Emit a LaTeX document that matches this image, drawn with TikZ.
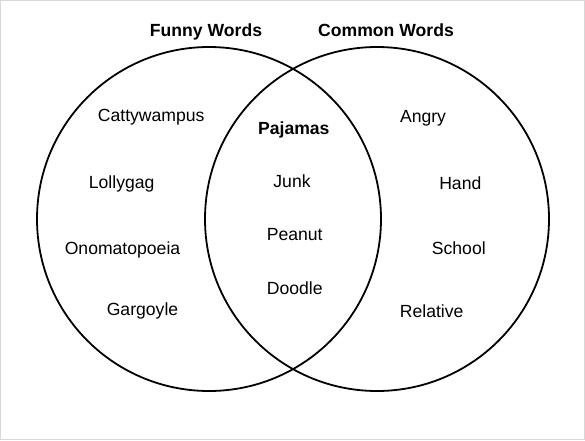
\documentclass[tikz,border=0pt]{standalone}
\usepackage{fontspec}
\setmainfont{Liberation Sans}
\begin{document}
\begin{tikzpicture}[x=1pt,y=1pt,
  word/.style={inner sep=0pt,anchor=base,font=\fontsize{17.6}{20}\selectfont},
  title/.style={word,font=\fontsize{17.6}{20}\selectfont\bfseries},
  ring/.style={draw=black,line width=1.8pt}]
\useasboundingbox (0,0) rectangle (585,440);
\draw[draw={rgb,255:red,215;green,215;blue,215},line width=1pt] (0.5,0.5) rectangle (584.5,439.5);
\node[ring,circle,minimum size=344pt,inner sep=0pt] (funny) at (209,221) {};
\node[ring,circle,minimum size=344pt,inner sep=0pt] (common) at (377,221) {};
\node[title] (tf) at (206,403.3) {Funny Words};
\node[title] (tc) at (386,403.3) {Common Words};
\node[word] (w1) at (151.2,318.3) {Cattywampus};
\node[word] (w2) at (121.7,251.7) {Lollygag};
\node[word] (w3) at (122.5,185.7) {Onomatopoeia};
\node[word] (w4) at (142.5,125) {Gargoyle};
\node[title] (w5) at (293.8,306) {Pajamas};
\node[word] (w6) at (292,252.7) {Junk};
\node[word] (w7) at (294.7,199.3) {Peanut};
\node[word] (w8) at (294.7,145.7) {Doodle};
\node[word] (w9) at (423,317.7) {Angry};
\node[word] (w10) at (460.3,251) {Hand};
\node[word] (w11) at (458.8,185.7) {School};
\node[word] (w12) at (431.7,122.3) {Relative};
\end{tikzpicture}
\end{document}
